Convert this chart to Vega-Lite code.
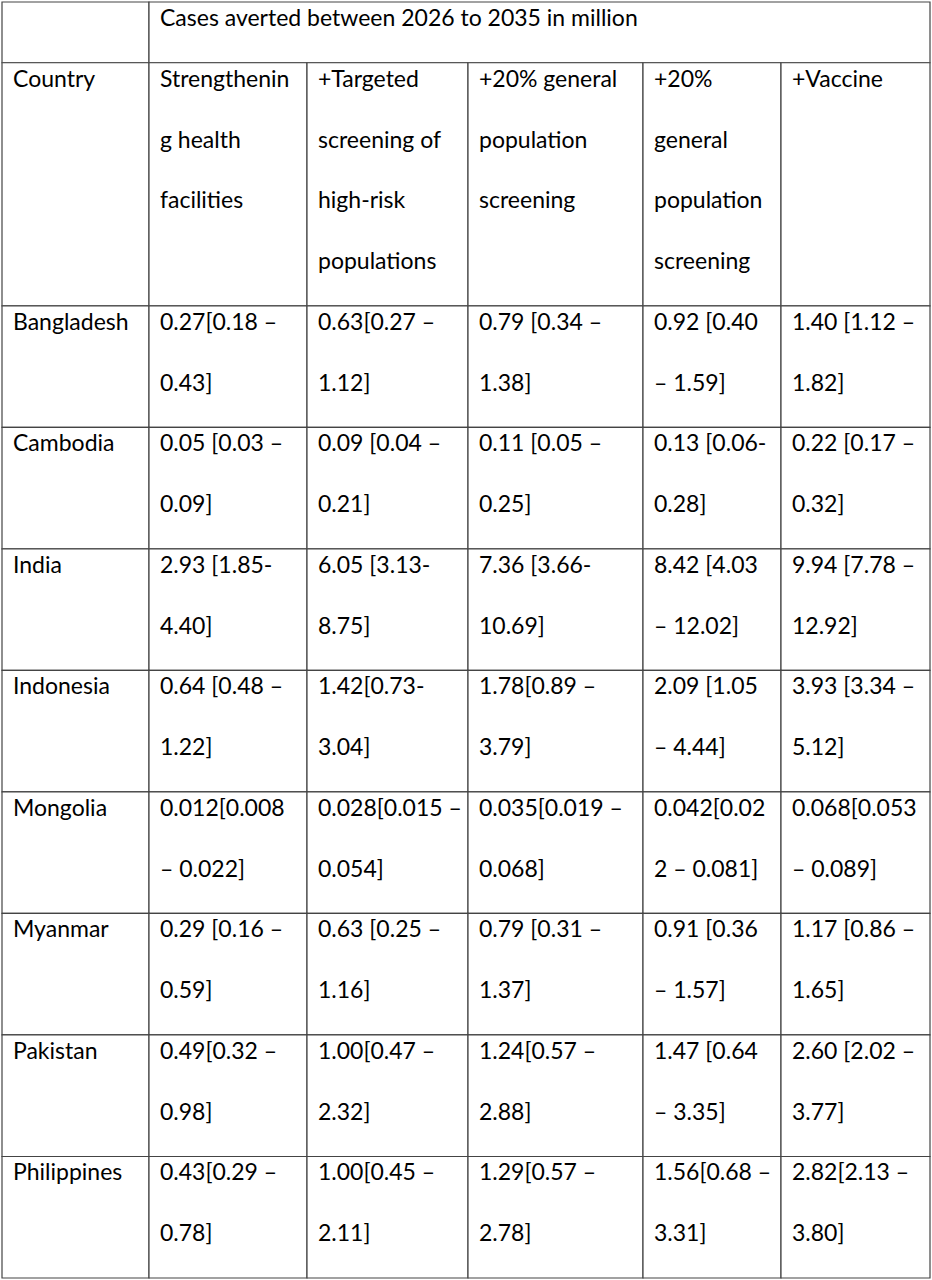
{
  "$schema": "https://vega.github.io/schema/vega-lite/v6.json",
  "width": 928,
  "height": 1276,
  "padding": 2,
  "autosize": "none",
  "background": "white",
  "datasets": {
    "columns": [
      {"col": 0, "left": 0, "right": 147},
      {"col": 1, "left": 147, "right": 305},
      {"col": 2, "left": 305, "right": 466},
      {"col": 3, "left": 466, "right": 641},
      {"col": 4, "left": 641, "right": 779},
      {"col": 5, "left": 779, "right": 928}
    ],
    "rows": [
      {"row": 0, "top": 0, "bottom": 1},
      {"row": 1, "top": 1, "bottom": 5},
      {"row": 2, "top": 5, "bottom": 7},
      {"row": 3, "top": 7, "bottom": 9},
      {"row": 4, "top": 9, "bottom": 11},
      {"row": 5, "top": 11, "bottom": 13},
      {"row": 6, "top": 13, "bottom": 15},
      {"row": 7, "top": 15, "bottom": 17},
      {"row": 8, "top": 17, "bottom": 19},
      {"row": 9, "top": 19, "bottom": 21}
    ],
    "cells": [
      {"row": 0, "col": 0, "colEnd": 0, "text": [""]},
      {"row": 0, "col": 1, "colEnd": 5, "text": ["Cases averted between 2026 to 2035 in million"]},
      {"row": 1, "col": 0, "colEnd": 0, "text": ["Country"]},
      {"row": 1, "col": 1, "colEnd": 1, "text": ["Strengthenin", "g health", "facilities"]},
      {"row": 1, "col": 2, "colEnd": 2, "text": ["+Targeted", "screening of", "high-risk", "populations"]},
      {"row": 1, "col": 3, "colEnd": 3, "text": ["+20% general", "population", "screening"]},
      {"row": 1, "col": 4, "colEnd": 4, "text": ["+20%", "general", "population", "screening"]},
      {"row": 1, "col": 5, "colEnd": 5, "text": ["+Vaccine"]},

      {"row": 2, "col": 0, "colEnd": 0, "text": ["Bangladesh"]},
      {"row": 2, "col": 1, "colEnd": 1, "text": ["0.27[0.18 –", "0.43]"]},
      {"row": 2, "col": 2, "colEnd": 2, "text": ["0.63[0.27 –", "1.12]"]},
      {"row": 2, "col": 3, "colEnd": 3, "text": ["0.79 [0.34 –", "1.38]"]},
      {"row": 2, "col": 4, "colEnd": 4, "text": ["0.92 [0.40", "– 1.59]"]},
      {"row": 2, "col": 5, "colEnd": 5, "text": ["1.40 [1.12 –", "1.82]"]},

      {"row": 3, "col": 0, "colEnd": 0, "text": ["Cambodia"]},
      {"row": 3, "col": 1, "colEnd": 1, "text": ["0.05 [0.03 –", "0.09]"]},
      {"row": 3, "col": 2, "colEnd": 2, "text": ["0.09 [0.04 –", "0.21]"]},
      {"row": 3, "col": 3, "colEnd": 3, "text": ["0.11 [0.05 –", "0.25]"]},
      {"row": 3, "col": 4, "colEnd": 4, "text": ["0.13 [0.06-", "0.28]"]},
      {"row": 3, "col": 5, "colEnd": 5, "text": ["0.22 [0.17 –", "0.32]"]},

      {"row": 4, "col": 0, "colEnd": 0, "text": ["India"]},
      {"row": 4, "col": 1, "colEnd": 1, "text": ["2.93 [1.85-", "4.40]"]},
      {"row": 4, "col": 2, "colEnd": 2, "text": ["6.05 [3.13-", "8.75]"]},
      {"row": 4, "col": 3, "colEnd": 3, "text": ["7.36 [3.66-", "10.69]"]},
      {"row": 4, "col": 4, "colEnd": 4, "text": ["8.42 [4.03", "– 12.02]"]},
      {"row": 4, "col": 5, "colEnd": 5, "text": ["9.94 [7.78 –", "12.92]"]},

      {"row": 5, "col": 0, "colEnd": 0, "text": ["Indonesia"]},
      {"row": 5, "col": 1, "colEnd": 1, "text": ["0.64 [0.48 –", "1.22]"]},
      {"row": 5, "col": 2, "colEnd": 2, "text": ["1.42[0.73-", "3.04]"]},
      {"row": 5, "col": 3, "colEnd": 3, "text": ["1.78[0.89 –", "3.79]"]},
      {"row": 5, "col": 4, "colEnd": 4, "text": ["2.09 [1.05", "– 4.44]"]},
      {"row": 5, "col": 5, "colEnd": 5, "text": ["3.93 [3.34 –", "5.12]"]},

      {"row": 6, "col": 0, "colEnd": 0, "text": ["Mongolia"]},
      {"row": 6, "col": 1, "colEnd": 1, "text": ["0.012[0.008", "– 0.022]"]},
      {"row": 6, "col": 2, "colEnd": 2, "text": ["0.028[0.015 –", "0.054]"]},
      {"row": 6, "col": 3, "colEnd": 3, "text": ["0.035[0.019 –", "0.068]"]},
      {"row": 6, "col": 4, "colEnd": 4, "text": ["0.042[0.02", "2 – 0.081]"]},
      {"row": 6, "col": 5, "colEnd": 5, "text": ["0.068[0.053", "– 0.089]"]},

      {"row": 7, "col": 0, "colEnd": 0, "text": ["Myanmar"]},
      {"row": 7, "col": 1, "colEnd": 1, "text": ["0.29 [0.16 –", "0.59]"]},
      {"row": 7, "col": 2, "colEnd": 2, "text": ["0.63 [0.25 –", "1.16]"]},
      {"row": 7, "col": 3, "colEnd": 3, "text": ["0.79 [0.31 –", "1.37]"]},
      {"row": 7, "col": 4, "colEnd": 4, "text": ["0.91 [0.36", "– 1.57]"]},
      {"row": 7, "col": 5, "colEnd": 5, "text": ["1.17 [0.86 –", "1.65]"]},

      {"row": 8, "col": 0, "colEnd": 0, "text": ["Pakistan"]},
      {"row": 8, "col": 1, "colEnd": 1, "text": ["0.49[0.32 –", "0.98]"]},
      {"row": 8, "col": 2, "colEnd": 2, "text": ["1.00[0.47 –", "2.32]"]},
      {"row": 8, "col": 3, "colEnd": 3, "text": ["1.24[0.57 –", "2.88]"]},
      {"row": 8, "col": 4, "colEnd": 4, "text": ["1.47 [0.64", "– 3.35]"]},
      {"row": 8, "col": 5, "colEnd": 5, "text": ["2.60 [2.02 –", "3.77]"]},

      {"row": 9, "col": 0, "colEnd": 0, "text": ["Philippines"]},
      {"row": 9, "col": 1, "colEnd": 1, "text": ["0.43[0.29 –", "0.78]"]},
      {"row": 9, "col": 2, "colEnd": 2, "text": ["1.00[0.45 –", "2.11]"]},
      {"row": 9, "col": 3, "colEnd": 3, "text": ["1.29[0.57 –", "2.78]"]},
      {"row": 9, "col": 4, "colEnd": 4, "text": ["1.56[0.68 –", "3.31]"]},
      {"row": 9, "col": 5, "colEnd": 5, "text": ["2.82[2.13 –", "3.80]"]}
    ]
  },
  "data": {"name": "cells"},
  "transform": [
    {"lookup": "row", "from": {"data": {"name": "rows"}, "key": "row", "fields": ["top", "bottom"]}},
    {"lookup": "col", "from": {"data": {"name": "columns"}, "key": "col", "fields": ["left"]}},
    {"lookup": "colEnd", "from": {"data": {"name": "columns"}, "key": "col", "fields": ["right"]}}
  ],
  "encoding": {
    "x": {
      "field": "left",
      "type": "quantitative",
      "axis": null,
      "scale": {"domain": [0, 928], "nice": false, "zero": false}
    },
    "y": {
      "field": "top",
      "type": "quantitative",
      "axis": null,
      "scale": {"domain": [0, 21], "nice": false, "zero": false, "reverse": true}
    }
  },
  "layer": [
    {
      "mark": {"type": "rect", "fill": "white", "stroke": "#444444", "strokeWidth": 1.2},
      "encoding": {
        "x2": {"field": "right"},
        "y2": {"field": "bottom"}
      }
    },
    {
      "mark": {
        "type": "text",
        "font": "Lato",
        "fontSize": 23,
        "color": "#000000",
        "align": "left",
        "baseline": "alphabetic",
        "dx": 11,
        "dy": 24,
        "lineHeight": 60.76
      },
      "encoding": {
        "text": {"field": "text", "type": "nominal"}
      }
    }
  ],
  "config": {"view": {"stroke": null}}
}
